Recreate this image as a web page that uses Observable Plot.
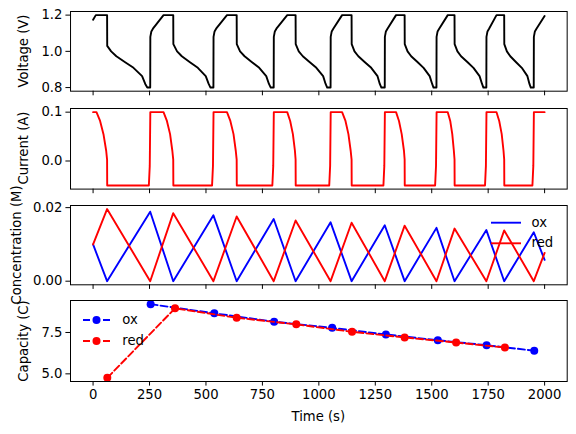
<!DOCTYPE html>
<html>
<head>
<meta charset="utf-8">
<script src="https://cdn.jsdelivr.net/npm/d3@7"></script>
<script src="https://cdn.jsdelivr.net/npm/@observablehq/plot@0.6"></script>
<style>
  html, body { margin: 0; padding: 0; background: white; }
  #fig { position: relative; width: 576px; height: 434px; font-family: "DejaVu Sans", sans-serif; font-size: 13.2px; color: black; }
  #fig svg { position: absolute; left: 0; }
  .lbl { position: absolute; white-space: nowrap; line-height: 1; }
  .ylbl { position: absolute; white-space: nowrap; line-height: 1; transform: translate(-50%, -50%) rotate(-90deg); }
</style>
</head>
<body>
<div id="fig"></div>
<script>
// ---------- data ----------
const xTicks = [0, 250, 500, 750, 1000, 1250, 1500, 1750, 2000];

const voltT = [0, 12, 62, 62.5, 80, 103, 142, 179, 217, 231, 240, 253,
  253.5, 258, 265, 312, 355, 355.5, 372, 393, 429, 464, 499, 512, 520, 533,
  533.5, 538, 545, 593, 636, 636.5, 651, 671, 704, 736, 767, 779, 787, 800,
  800.5, 805, 812, 860, 897, 897.5, 911, 929, 960, 989, 1019, 1030, 1037, 1052,
  1052.5, 1057, 1064, 1103, 1145, 1145.5, 1158, 1175, 1204, 1232, 1260, 1270, 1277, 1292,
  1292.5, 1297, 1304, 1342, 1380, 1380.5, 1393, 1409, 1438, 1464, 1491, 1502, 1508, 1521,
  1521.5, 1526, 1533, 1571, 1601, 1601.5, 1614, 1630, 1659, 1685, 1712, 1723, 1729, 1742,
  1742.5, 1747, 1754, 1787, 1821, 1821.5, 1833, 1848, 1874, 1899, 1924, 1933, 1939, 1952,
  1952.5, 1957, 1964, 2000];
const voltV = [1.175, 1.2, 1.2, 1.03, 1.0, 0.973, 0.94, 0.909, 0.863, 0.82, 0.8, 0.8,
  1.08, 1.11, 1.125, 1.2, 1.2, 1.04, 1.0, 0.973, 0.94, 0.909, 0.863, 0.82, 0.8, 0.8,
  1.08, 1.11, 1.125, 1.2, 1.2, 1.04, 1.0, 0.973, 0.94, 0.909, 0.863, 0.82, 0.8, 0.8,
  1.08, 1.11, 1.125, 1.2, 1.2, 1.04, 1.0, 0.973, 0.94, 0.909, 0.863, 0.82, 0.8, 0.8,
  1.08, 1.11, 1.125, 1.2, 1.2, 1.04, 1.0, 0.973, 0.94, 0.909, 0.863, 0.82, 0.8, 0.8,
  1.08, 1.11, 1.125, 1.2, 1.2, 1.04, 1.0, 0.973, 0.94, 0.909, 0.863, 0.82, 0.8, 0.8,
  1.08, 1.11, 1.125, 1.2, 1.2, 1.04, 1.0, 0.973, 0.94, 0.909, 0.863, 0.82, 0.8, 0.8,
  1.08, 1.11, 1.125, 1.2, 1.2, 1.04, 1.0, 0.973, 0.94, 0.909, 0.863, 0.82, 0.8, 0.8,
  1.08, 1.11, 1.125, 1.195];

const currT = [0, 15, 31, 46, 58, 62, 62.5, 247, 251, 253.5,
  312, 327, 341, 351, 355, 355.5, 527, 531, 533.5,
  593, 608, 622, 632, 636, 636.5, 794, 798, 800.5,
  860, 873, 885, 894, 897, 897.5, 1046, 1050, 1052.5,
  1103, 1118, 1131, 1141, 1145, 1145.5, 1286, 1290, 1292.5,
  1342, 1355, 1367, 1377, 1380, 1380.5, 1515, 1519, 1521.5,
  1571, 1582, 1591, 1598, 1601, 1601.5, 1736, 1740, 1742.5,
  1787, 1799, 1810, 1818, 1821, 1821.5, 1946, 1950, 1952.5,
  2000];
const currI = [0.1, 0.1, 0.082, 0.055, 0.021, 0.003, -0.05, -0.05, -0.01, 0.1,
  0.1, 0.082, 0.055, 0.021, 0.003, -0.05, -0.05, -0.01, 0.1,
  0.1, 0.082, 0.055, 0.021, 0.003, -0.05, -0.05, -0.01, 0.1,
  0.1, 0.082, 0.055, 0.021, 0.003, -0.05, -0.05, -0.01, 0.1,
  0.1, 0.082, 0.055, 0.021, 0.003, -0.05, -0.05, -0.01, 0.1,
  0.1, 0.082, 0.055, 0.021, 0.003, -0.05, -0.05, -0.01, 0.1,
  0.1, 0.082, 0.055, 0.021, 0.003, -0.05, -0.05, -0.01, 0.1,
  0.1, 0.082, 0.055, 0.021, 0.003, -0.05, -0.05, -0.01, 0.1,
  0.1];

const concT = [0, 62, 253, 355, 533, 636, 800, 897, 1052, 1145, 1292, 1380, 1521, 1601, 1742, 1821, 1952, 2000];
const oxConc = [0.01, 0, 0.0189, 0, 0.0179, 0, 0.0169, 0, 0.016, 0, 0.0152, 0, 0.0145, 0, 0.0139, 0, 0.0133, 0.0058];
const redConc = [0.01, 0.0196, 0, 0.0185, 0, 0.0176, 0, 0.0165, 0, 0.0159, 0, 0.0151, 0, 0.0143, 0, 0.0138, 0, 0.0077];

const oxCapT = [255, 537, 802, 1059, 1297, 1527, 1743, 1954];
const oxCap = [9.21, 8.66, 8.15, 7.78, 7.38, 7.03, 6.73, 6.40];
const redCapT = [63, 363, 636, 900, 1147, 1380, 1608, 1824];
const redCap = [4.76, 8.96, 8.39, 7.99, 7.54, 7.20, 6.89, 6.59];

// ---------- build tables ----------
const zip = (xs, ys) => xs.map((x, i) => ({x, y: ys[i]}));
const voltage = zip(voltT, voltV);
const current = zip(currT, currI);
const ox = zip(concT, oxConc);
const red = zip(concT, redConc);
const oxC = zip(oxCapT, oxCap);
const redC = zip(redCapT, redCap);

const fig = document.getElementById("fig");
const FS = 13.2;
const FONT = {fontFamily: "DejaVu Sans", fontSize: FS + "px", background: "none", overflow: "visible", color: "black"};

function panel({top, h, mb, yDomain, yTicks, yFmt, marks, showX}) {
  const mt = 2;
  const svg = Plot.plot({
    width: 576,
    height: h + mt + mb,
    marginLeft: 70,
    marginRight: 9.3,
    marginTop: mt,
    marginBottom: mb,
    style: FONT,
    x: {domain: [-100, 2100]},
    y: {domain: yDomain},
    marks: [
      ...marks,
      Plot.frame({stroke: "black", strokeWidth: 1}),
      Plot.axisX({ticks: xTicks, tickSize: 4.6, tickPadding: 3.5, label: null, fontSize: FS,
                  tickFormat: showX ? (d => String(d)) : (() => "")}),
      Plot.axisY({ticks: yTicks, tickSize: 4.6, tickPadding: 3.5, label: null, fontSize: FS,
                  tickFormat: d3.format(yFmt)})
    ]
  });
  svg.style.top = (top - mt) + "px";
  fig.appendChild(svg);
}

const LW = 1.9;

panel({top: 11.3, h: 79.7, mb: 8, yDomain: [0.78, 1.22], yTicks: [0.8, 1.0, 1.2], yFmt: ".1f",
  marks: [Plot.line(voltage, {x: "x", y: "y", stroke: "black", strokeWidth: LW})]});

panel({top: 107.7, h: 80.6, mb: 8, yDomain: [-0.0575, 0.1075], yTicks: [0.0, 0.1], yFmt: ".1f",
  marks: [Plot.line(current, {x: "x", y: "y", stroke: "#ff0000", strokeWidth: LW})]});

panel({top: 205, h: 79.3, mb: 8, yDomain: [-0.00098, 0.02058], yTicks: [0.0, 0.02], yFmt: ".2f",
  marks: [
    Plot.line(ox, {x: "x", y: "y", stroke: "#0000ff", strokeWidth: LW}),
    Plot.line(red, {x: "x", y: "y", stroke: "#ff0000", strokeWidth: LW})
  ]});

panel({top: 300, h: 81, mb: 30, yDomain: [4.5375, 9.4325], yTicks: [5.0, 7.5], yFmt: ".1f", showX: true,
  marks: [
    Plot.line(oxC, {x: "x", y: "y", stroke: "#0000ff", strokeWidth: LW, strokeDasharray: "7,3"}),
    Plot.dot(oxC, {x: "x", y: "y", fill: "#0000ff", r: 4}),
    Plot.line(redC, {x: "x", y: "y", stroke: "#ff0000", strokeWidth: LW, strokeDasharray: "7,3"}),
    Plot.dot(redC, {x: "x", y: "y", fill: "#ff0000", r: 4})
  ]});

// ---------- labels ----------
function yLabel(text, cx, cy) {
  const d = document.createElement("div");
  d.className = "ylbl";
  d.textContent = text;
  d.style.left = cx + "px";
  d.style.top = cy + "px";
  fig.appendChild(d);
}
yLabel("Voltage (V)", 24, 51);
yLabel("Current (A)", 24, 148);
yLabel("Concentration (M)", 17, 244.6);
yLabel("Capacity (C)", 24, 340.5);

const xl = document.createElement("div");
xl.className = "lbl";
xl.textContent = "Time (s)";
xl.style.left = "318.3px";
xl.style.top = "416.7px";
xl.style.transform = "translate(-50%, -50%)";
fig.appendChild(xl);

// ---------- legends ----------
function legendEntry(text, color, x0, x1, cy, tx, dashed, marker) {
  const ns = "http://www.w3.org/2000/svg";
  const s = document.createElementNS(ns, "svg");
  s.setAttribute("width", 576); s.setAttribute("height", 434);
  s.style.position = "absolute"; s.style.left = "0px"; s.style.top = "0px"; s.style.overflow = "visible";
  const l = document.createElementNS(ns, "line");
  l.setAttribute("x1", x0); l.setAttribute("x2", x1); l.setAttribute("y1", cy); l.setAttribute("y2", cy);
  l.setAttribute("stroke", color); l.setAttribute("stroke-width", LW);
  if (dashed) l.setAttribute("stroke-dasharray", "7,3");
  s.appendChild(l);
  if (marker) {
    const c = document.createElementNS(ns, "circle");
    c.setAttribute("cx", (x0 + x1) / 2); c.setAttribute("cy", cy); c.setAttribute("r", 4);
    c.setAttribute("fill", color);
    s.appendChild(c);
  }
  fig.appendChild(s);
  const t = document.createElement("div");
  t.className = "lbl";
  t.textContent = text;
  t.style.left = tx + "px";
  t.style.top = cy + "px";
  t.style.transform = "translateY(-50%)";
  fig.appendChild(t);
}
legendEntry("ox", "#0000ff", 491, 521, 222.7, 531.5, false, false);
legendEntry("red", "#ff0000", 491, 521, 243.3, 531.5, false, false);
legendEntry("ox", "#0000ff", 83, 110, 320, 122.3, true, true);
legendEntry("red", "#ff0000", 83, 110, 341, 122.3, true, true);
</script>
</body>
</html>
